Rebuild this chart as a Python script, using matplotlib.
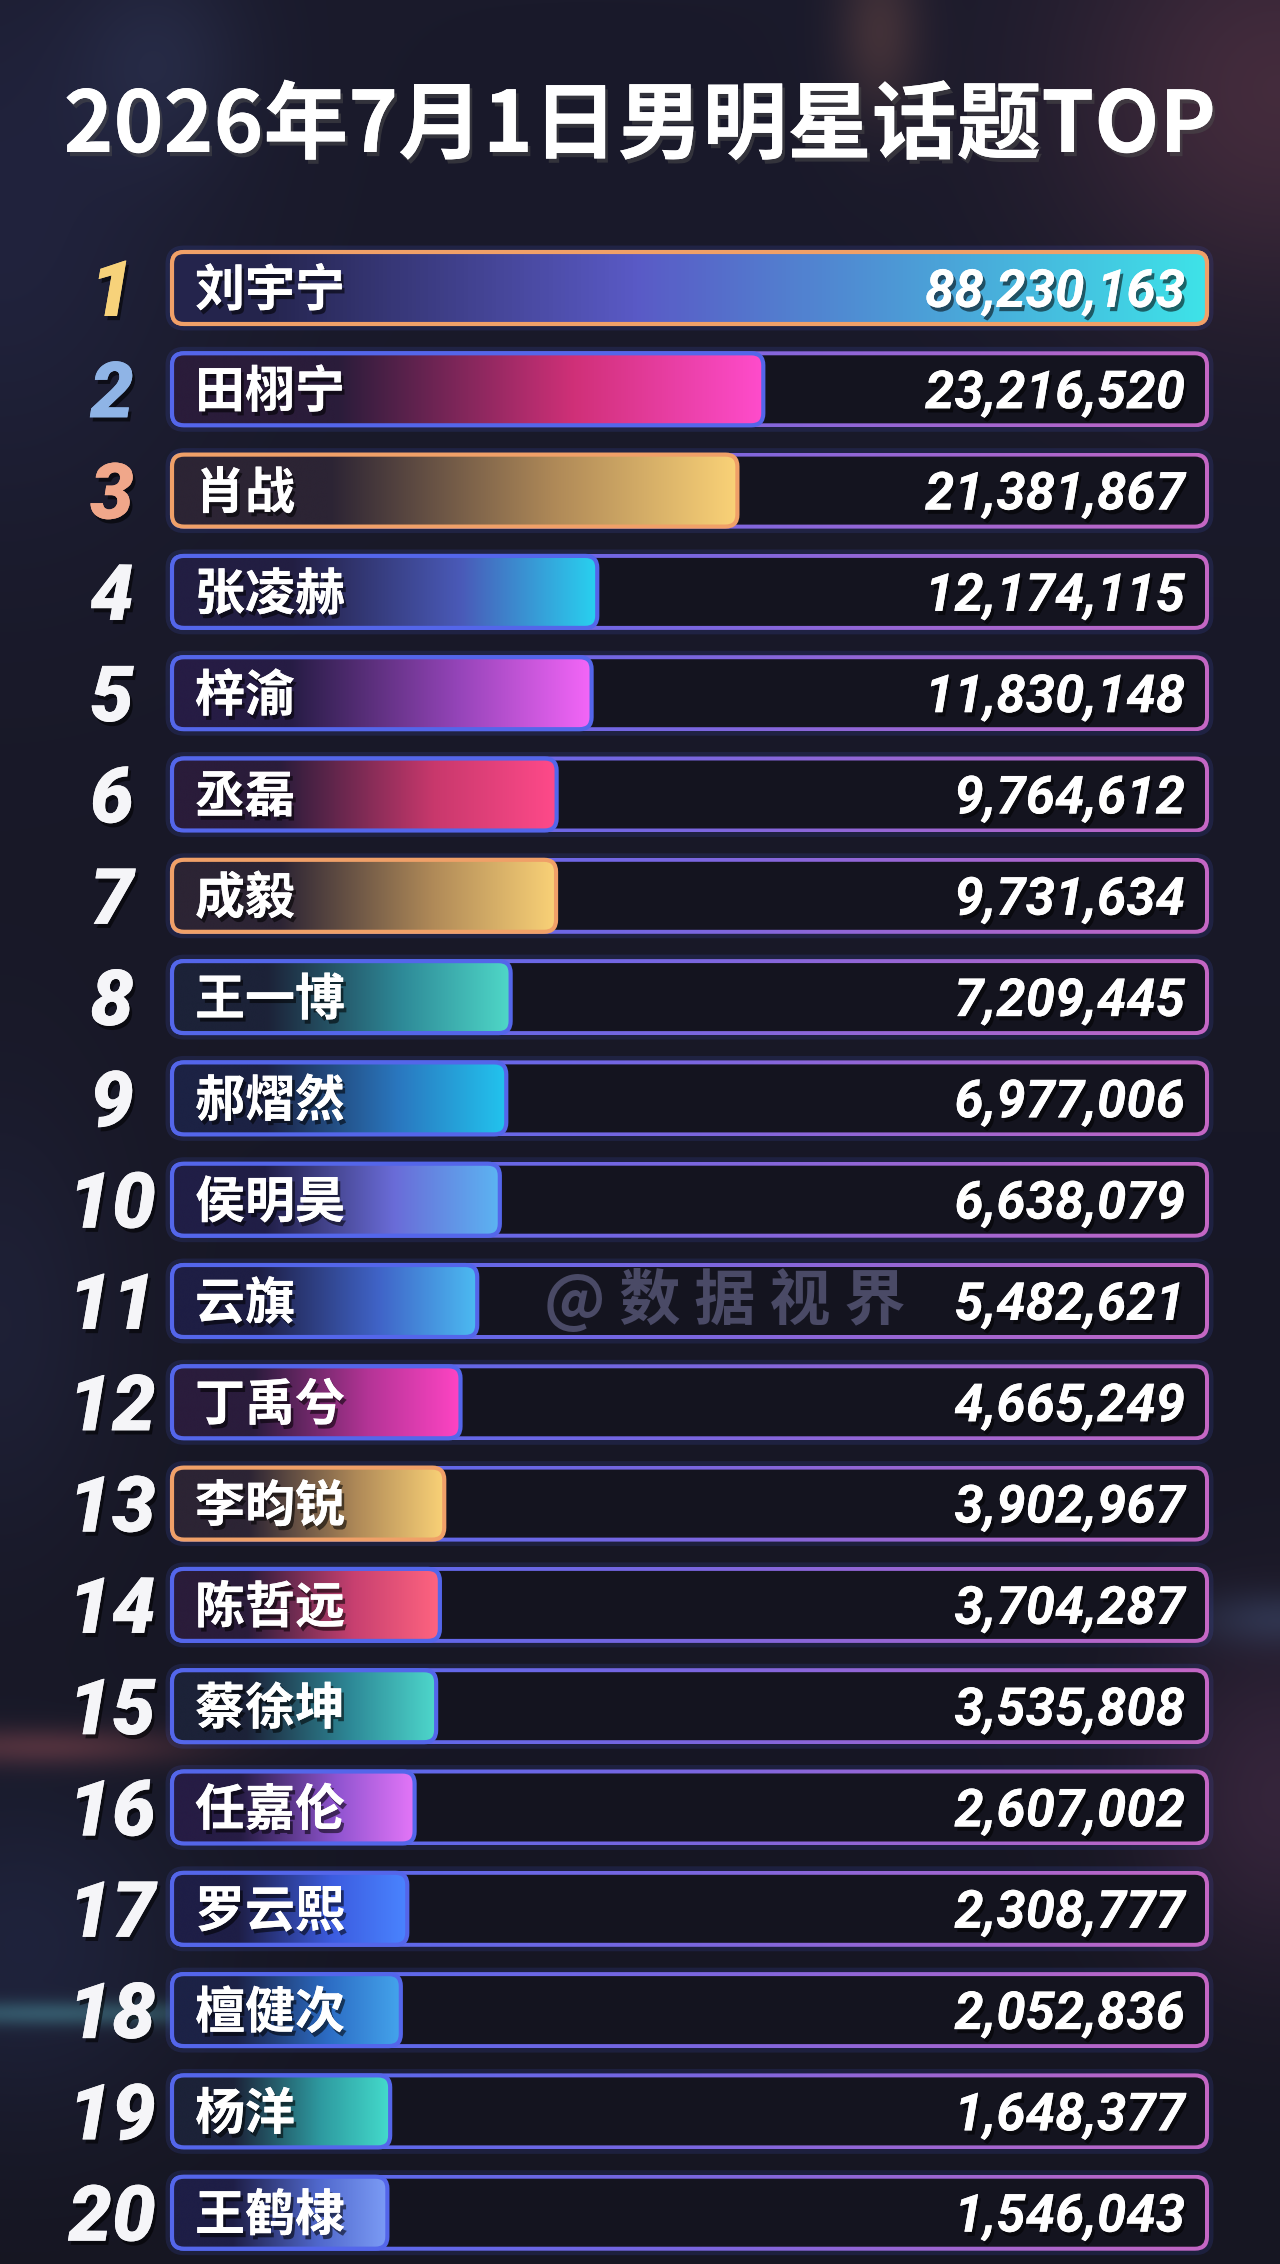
"""
Daily male-celebrity topic ranking (TOP 20), drawn as a styled bar board.
"""

import numpy as np
import matplotlib
matplotlib.use("Agg")
import matplotlib.pyplot as plt
import matplotlib.patheffects as pe
from matplotlib.colors import LinearSegmentedColormap, to_rgb
from matplotlib.patches import FancyBboxPatch

# ---- data -----------------------------------------------------------------
TITLE = "2026年7月1日男明星话题TOP"
WATERMARK = "@ 数 据 视 界"

ranks = list(range(1, 21))
names = ["刘宇宁", "田栩宁", "肖战", "张凌赫", "梓渝", "丞磊", "成毅", "王一博",
         "郝熠然", "侯明昊", "云旗", "丁禹兮", "李昀锐", "陈哲远", "蔡徐坤",
         "任嘉伦", "罗云熙", "檀健次", "杨洋", "王鹤棣"]
values = [88230163, 23216520, 21381867, 12174115, 11830148, 9764612, 9731634,
          7209445, 6977006, 6638079, 5482621, 4665249, 3902967, 3704287,
          3535808, 2607002, 2308777, 2052836, 1648377, 1546043]

# ---- style ----------------------------------------------------------------
W, H = 1280, 2264
BG_TOP, BG_BOT = "#1a1a2b", "#161622"
BOX_FILL = "#14141f"
CJK = ["Noto Sans CJK SC", "DejaVu Sans"]
NUM = ["Roboto", "DejaVu Sans"]

GOLD = ("#2c2434", "#b08a58", "#fad277")
bar_colors = [
    ("#24244c", "#5a5ac6", "#3ee2e8"),
    ("#2a1c3a", "#d03078", "#ff4ccc"),
    GOLD,
    ("#221e42", "#4a5ab8", "#28d2f0"),
    ("#261c44", "#9444b8", "#f466f8"),
    ("#2a1c3a", "#c8386c", "#ff4a8a"),
    GOLD,
    ("#1c2238", "#2e8a98", "#4fd8c8"),
    ("#1c2244", "#2a78c0", "#22c4ee"),
    ("#201e46", "#6a6cd8", "#5cb4f2"),
    ("#1e1e44", "#4064c8", "#4cbcf2"),
    ("#2a1c3c", "#b43496", "#ff44c4"),
    GOLD,
    ("#2a1c3a", "#c84070", "#ff6480"),
    ("#1c2238", "#2e8a98", "#4ed8cc"),
    ("#261c44", "#9054d0", "#e476f8"),
    ("#1e1e46", "#3c5ce0", "#4a84ff"),
    ("#1c2246", "#2c6cc4", "#44a4ec"),
    ("#1c2238", "#2e9aa0", "#44dccc"),
    ("#1e1e46", "#5068cc", "#7c9cf6"),
]
rank_colors = {1: "#f7d27a", 2: "#8fb4e6", 3: "#f0a78a"}
gold_rows = {1, 3, 7, 13}

BOX_L, BOX_R = 170, 1209
ROW0, STEP, BOX_H = 288, 101.3, 76
RAD, LW = 14, 4
POW = 0.75
X0, XMAX = 6.3e6, 59.5e6    # value scale limits (bar axis)


def fwd(x):
    return np.sign(x) * np.abs(x) ** POW


def inv(y):
    return np.sign(y) * np.abs(y) ** (1 / POW)


def rounded(x, y, w, h, r, **kw):
    return FancyBboxPatch((x, y), w, h, boxstyle=f"round,pad=0,rounding_size={r}",
                          transform=ax.transData, **kw)


def hgrad(x0, x1, y0, y1, colors, stops, clip, z):
    cmap = LinearSegmentedColormap.from_list("g", list(zip(stops, colors)))
    im = ax.imshow(np.linspace(0, 1, 256)[None, :], cmap=cmap, aspect="auto",
                   extent=(x0, x1, y1, y0), interpolation="bicubic", zorder=z)
    im.set_clip_path(clip)
    return im


fig = plt.figure(figsize=(W / 100, H / 100), dpi=100)
fig.patch.set_facecolor(BG_BOT)
ax = fig.add_axes([0, 0, 1, 1])

# ---- background with faint glows ------------------------------------------
gh, gw = 566, 320
X, Y = np.meshgrid(np.linspace(0, W, gw), np.linspace(0, H, gh))
t = (Y / H)[..., None]
bg = (1 - t) * np.array(to_rgb(BG_TOP)) + t * np.array(to_rgb(BG_BOT))


def glow(cx, cy, sx, sy, color, k):
    global bg
    g = np.exp(-0.5 * (((X - cx) / sx) ** 2 + ((Y - cy) / sy) ** 2))[..., None]
    bg = bg + k * g * np.array(to_rgb(color))


glow(1280, 90, 150, 150, "#8a3a3a", 0.3)
glow(880, 30, 30, 60, "#c07040", 0.2)
glow(160, 60, 60, 70, "#304060", 0.2)
glow(0, 220, 140, 200, "#202a55", 0.22)
glow(1280, 1800, 90, 120, "#6a3050", 0.28)
glow(1280, 1620, 60, 20, "#305070", 0.3)
glow(40, 1748, 110, 14, "#8a3a30", 0.4)
glow(60, 2015, 150, 9, "#3a8a80", 0.4)
glow(20, 1950, 120, 120, "#203060", 0.25)
glow(0, 1330, 80, 160, "#202a50", 0.2)
bg = np.clip(bg, 0, 1)
ax.imshow(bg, extent=(0, W, H, 0), aspect="auto", interpolation="bicubic", zorder=0)

# ---- value axis (bars) ----------------------------------------------------
n = len(values)
y_top = ROW0 - STEP / 2
y_bot = ROW0 + (n - 0.5) * STEP
bx = fig.add_axes([BOX_L / W, 1 - y_bot / H, (BOX_R - BOX_L) / W, (y_bot - y_top) / H])
bx.set_xscale("function", functions=(fwd, inv))
bx.set_xlim(-X0, XMAX)
bx.set_ylim(n - 0.5, -0.5)
bx.axis("off")
bars = bx.barh(np.arange(n), [v + X0 for v in values], left=-X0,
               height=BOX_H / STEP, color="none", linewidth=0)

to_ax = ax.transData.inverted()
shadow = [pe.withSimplePatchShadow(offset=(2, -3), shadow_rgbFace="black", alpha=0.55),
          pe.Normal()]

for i, (rk, nm, val, bar) in enumerate(zip(ranks, names, values, bars)):
    cy = ROW0 + i * STEP
    top = cy - BOX_H / 2
    ext = bar.get_window_extent()
    x_end = min(to_ax.transform((ext.x1, 0))[0], BOX_R)

    # box outline (gradient ring) and inner fill
    outer = rounded(BOX_L, top, BOX_R - BOX_L, BOX_H, RAD, facecolor="none",
                    edgecolor="none", zorder=1)
    ax.add_patch(outer)
    ax.add_patch(rounded(BOX_L - 1, top - 1, BOX_R - BOX_L + 2, BOX_H + 2, RAD + 1,
                         facecolor="none", edgecolor="#4a5ee0", lw=5, alpha=0.15,
                         zorder=1))
    if rk == 1:
        ring = ["#e88a5c", "#f0a878", "#e8905e"]
    else:
        ring = ["#4a6af2", "#7a66e0", "#c466c4"]
    hgrad(BOX_L, BOX_R, top, top + BOX_H, ring, [0, 0.5, 1], outer, 1.5)
    ax.add_patch(rounded(BOX_L + LW, top + LW, BOX_R - BOX_L - 2 * LW, BOX_H - 2 * LW,
                         RAD - LW, facecolor=BOX_FILL, edgecolor="none", zorder=2))

    # bar with gradient
    bl, bt, bw, bh = BOX_L + 2, top + 2, x_end - BOX_L - 4, BOX_H - 4
    bp = rounded(bl, bt, bw, bh, RAD - 2, facecolor="none", edgecolor="none", zorder=3)
    ax.add_patch(bp)
    dark, mid, end = bar_colors[i]
    stops = [0, 0.08, 0.45, 1] if rk == 1 else [0, 0.28, 0.68, 1]
    hgrad(bl, bl + bw, bt, bt + bh, [dark, dark, mid, end], stops, bp, 3)
    edge = "#f0a068" if rk in gold_rows else "#5466ea"
    ax.add_patch(rounded(bl, bt, bw, bh, RAD - 2, facecolor="none", edgecolor=edge,
                         lw=3, zorder=4))

    # texts
    ax.text(112, cy + 28, str(rk), ha="center", va="baseline", fontsize=56,
            family=NUM, fontweight="black", fontstyle="italic",
            color=rank_colors.get(rk, "#f5f5f8"), zorder=6, path_effects=shadow)
    ax.text(195, cy + 18, nm, ha="left", va="baseline", fontsize=36, family=CJK,
            fontweight="bold", color="white", zorder=6, path_effects=shadow)
    ax.text(1185, cy + 19, f"{val:,}", ha="right", va="baseline", fontsize=38,
            family=NUM, fontweight="bold", fontstyle="italic", color="white",
            zorder=6, path_effects=shadow)

# watermark in row 11
ax.text(725, ROW0 + 10 * STEP, WATERMARK, ha="center", va="center", fontsize=44,
        family=CJK, fontweight="bold", color="#4a4a66", zorder=5)

# title
ax.text(W / 2, 152, TITLE, ha="center", va="baseline", fontsize=61, family=CJK,
        fontweight="black", color="white", zorder=6,
        path_effects=[pe.withSimplePatchShadow(offset=(2, -3), alpha=0.5), pe.Normal()])

ax.set_xlim(0, W)
ax.set_ylim(H, 0)
ax.axis("off")

fig.savefig("out.png", dpi=100, facecolor=fig.get_facecolor())
